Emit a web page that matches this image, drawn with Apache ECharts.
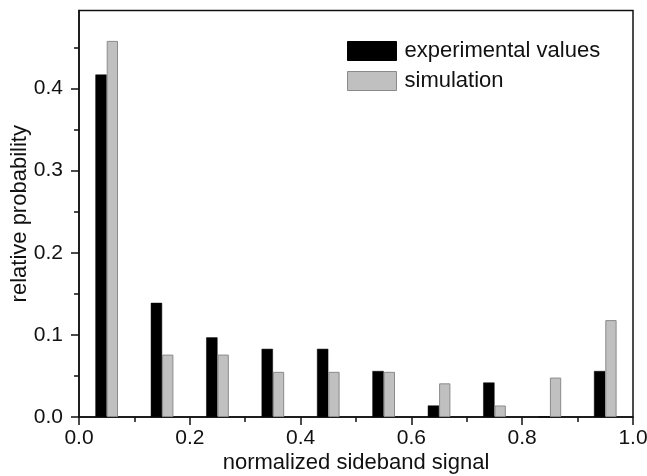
<!DOCTYPE html>
<html>
<head>
<meta charset="utf-8">
<script src="https://cdn.jsdelivr.net/npm/echarts@6/dist/echarts.min.js"></script>
<style>html,body{margin:0;padding:0;background:#fff;}#c{width:647px;height:476px;}</style>
</head>
<body>
<div id="c"></div>
<script>
const binCenters = ['0.05','0.15','0.25','0.35','0.45','0.55','0.65','0.75','0.85','0.95'];
const experimental = [0.417, 0.139, 0.097, 0.083, 0.083, 0.056, 0.014, 0.042, 0, 0.056];
const simulation = [0.458, 0.076, 0.076, 0.055, 0.055, 0.055, 0.041, 0.014, 0.048, 0.118];
const yMajorTicks = [0, 0.1, 0.2, 0.3, 0.4];
const yMinorTicks = [0.05, 0.15, 0.25, 0.35, 0.45];

const FONT = 'Liberation Sans';
const TXT = '#111';
const chart = echarts.init(document.getElementById('c'), null, {renderer: 'canvas'});
chart.setOption({
  animation: false,
  backgroundColor: '#fff',
  textStyle: {fontFamily: FONT},
  grid: {left: 79, right: 14, top: 10.5, bottom: 59, show: true, borderColor: '#111', borderWidth: 1.5,
         containLabel: false, outerBoundsMode: 'none'},
  legend: {
    orient: 'vertical', left: 342, top: 35,
    icon: 'rect',
    itemWidth: 49, itemHeight: 19, itemGap: 8,
    textStyle: {fontSize: 22, color: TXT, fontFamily: FONT, padding: [0, 0, 0, 3]},
    data: [
      {name: 'experimental values', itemStyle: {color: '#000', borderColor: '#000', borderWidth: 1}},
      {name: 'simulation', itemStyle: {color: '#c0c0c0', borderColor: '#8a8a8a', borderWidth: 1}}
    ]
  },
  xAxis: [
    {type: 'category', data: binCenters, show: false, boundaryGap: true},
    {type: 'value', min: 0, max: 1, interval: 0.2, position: 'bottom',
     name: 'normalized sideband signal', nameLocation: 'middle', nameGap: 35, nameMoveOverlap: false,
     nameTextStyle: {fontSize: 22, color: TXT, fontFamily: FONT},
     axisLine: {show: true, onZero: false, lineStyle: {color: '#111', width: 1.5}},
     axisTick: {show: true, inside: false, length: 8, lineStyle: {color: '#111', width: 1.5}},
     minorTick: {show: true, splitNumber: 2, length: 5, lineStyle: {color: '#111', width: 1.5}},
     splitLine: {show: false},
     axisLabel: {fontSize: 21, color: TXT, margin: 11, fontFamily: FONT, formatter: v => v.toFixed(1)}}
  ],
  yAxis: [
    {type: 'value', min: 0, max: 0.495,
     name: 'relative probability', nameLocation: 'middle', nameGap: 48, nameRotate: 90, nameMoveOverlap: false,
     nameTextStyle: {fontSize: 22, color: TXT, fontFamily: FONT},
     axisLine: {show: true, lineStyle: {color: '#111', width: 1.5}},
     axisTick: {show: true, length: 8, customValues: yMajorTicks, lineStyle: {color: '#111', width: 1.5}},
     splitLine: {show: false},
     axisLabel: {fontSize: 21, color: TXT, margin: 16, fontFamily: FONT, customValues: yMajorTicks, formatter: v => v.toFixed(1)}},
    {type: 'value', min: 0, max: 0.495, position: 'left',
     axisLine: {show: false},
     axisTick: {show: true, length: 5, customValues: yMinorTicks, lineStyle: {color: '#111', width: 1.5}},
     axisLabel: {show: false},
     splitLine: {show: false}}
  ],
  series: [
    {name: 'experimental values', type: 'bar', xAxisIndex: 0, yAxisIndex: 0, data: experimental,
     barWidth: 11.3, barGap: '0%', itemStyle: {color: '#000', borderColor: '#000', borderWidth: 0.5}},
    {name: 'simulation', type: 'bar', xAxisIndex: 0, yAxisIndex: 0, data: simulation,
     barWidth: 11.3, barGap: '0%', itemStyle: {color: '#c0c0c0', borderColor: '#8a8a8a', borderWidth: 1}}
  ]
});
</script>
</body>
</html>
